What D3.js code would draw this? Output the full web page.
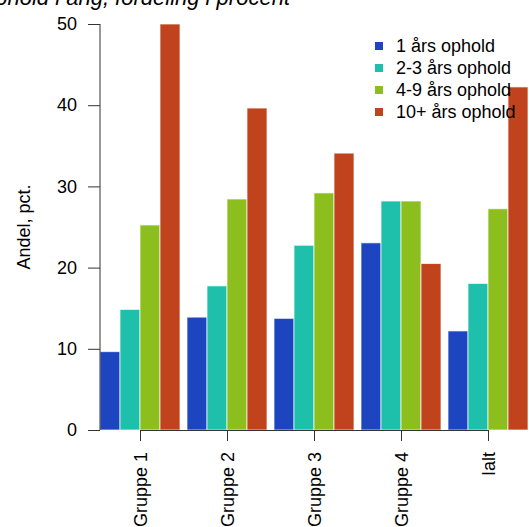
<!DOCTYPE html>
<html><head><meta charset="utf-8">
<script src="https://cdn.jsdelivr.net/npm/d3@7"></script>
<style>body{margin:0;background:#fff}svg{display:block;font-family:"Liberation Sans",Arial,sans-serif}</style>
</head><body><svg id="c" width="529" height="527"></svg>
<script>
const categories = ["Gruppe 1","Gruppe 2","Gruppe 3","Gruppe 4","Ialt"];
const seriesNames = ["1 års ophold","2-3 års ophold","4-9 års ophold","10+ års ophold"];
const s1 = [9.65, 13.9, 13.75, 23.05, 12.2];
const s2 = [14.85, 17.75, 22.75, 28.2, 18.05];
const s3 = [25.25, 28.45, 29.2, 28.2, 27.25];
const s4 = [50.0, 39.65, 34.1, 20.5, 42.25];
const yTicks = [0,10,20,30,40,50];
const colors = ["#1d45c0","#1ec0ac","#8cbf1e","#c1431e"];
const series = [s1,s2,s3,s4];

const svg = d3.select("#c");
const y = d3.scaleLinear().domain([0,50]).range([430,24]);
const x0 = d3.scaleBand().domain(categories).range([100,528]).paddingInner(7/87).paddingOuter(0);
const x1 = d3.scaleBand().domain(seriesNames).range([0,x0.bandwidth()]).padding(0);

// title (cropped at top, as in the reference)
svg.append("text").attr("x",290).attr("y",5).attr("text-anchor","end")
  .attr("font-size",22).attr("font-style","italic").attr("fill","#000")
  .text("Ophold i ang, fordeling i procent");

// bars
const g = svg.append("g");
categories.forEach((c,i)=>{
  series.forEach((s,j)=>{
    g.append("rect")
      .attr("x", x0(c)+x1(seriesNames[j]))
      .attr("y", y(s[i]))
      .attr("width", x1.bandwidth())
      .attr("height", y(0)-y(s[i]))
      .attr("fill", colors[j])
      .attr("stroke","#ffffff").attr("stroke-opacity",0.7).attr("stroke-width",1);
  });
});

// y axis
const ya = svg.append("g").attr("transform","translate(100,0)")
  .call(d3.axisLeft(y).tickValues(yTicks).tickSize(12).tickPadding(11).tickFormat(d3.format("d")));
ya.select(".domain").attr("stroke","#333").attr("d","M0,"+y(50)+"V"+y(0));
ya.selectAll(".tick line").attr("stroke","#333");
ya.selectAll("text").attr("font-size",18).attr("fill","#000").attr("font-family","Liberation Sans, Arial, sans-serif");

// x axis
const xc = d3.scalePoint().domain(categories).range([x0(categories[0])+x0.bandwidth()/2, x0(categories[4])+x0.bandwidth()/2]);
const xa = svg.append("g").attr("transform","translate(0,430)")
  .call(d3.axisBottom(xc).tickSize(11).tickSizeOuter(0));
xa.select(".domain").attr("stroke","#333");
xa.selectAll(".tick line").attr("stroke","#333");
xa.selectAll("text").attr("font-size",18).attr("fill","#000")
  .attr("font-family","Liberation Sans, Arial, sans-serif")
  .attr("transform","rotate(-90)").attr("text-anchor","end")
  .attr("x",-22).attr("y",0).attr("dy","0.35em");

// y label
svg.append("text").attr("transform","translate(30,227) rotate(-90)")
  .attr("text-anchor","middle").attr("font-size",18).attr("fill","#000")
  .text("Andel, pct.");

// legend
const lg = svg.append("g");
seriesNames.forEach((n,j)=>{
  const yy = 46 + j*22;
  lg.append("rect").attr("x",375).attr("y",yy-4).attr("width",8).attr("height",8).attr("fill",colors[j]);
  lg.append("text").attr("x",396).attr("y",yy).attr("dy","0.35em").attr("font-size",18).attr("fill","#000").text(n);
});
</script></body></html>
